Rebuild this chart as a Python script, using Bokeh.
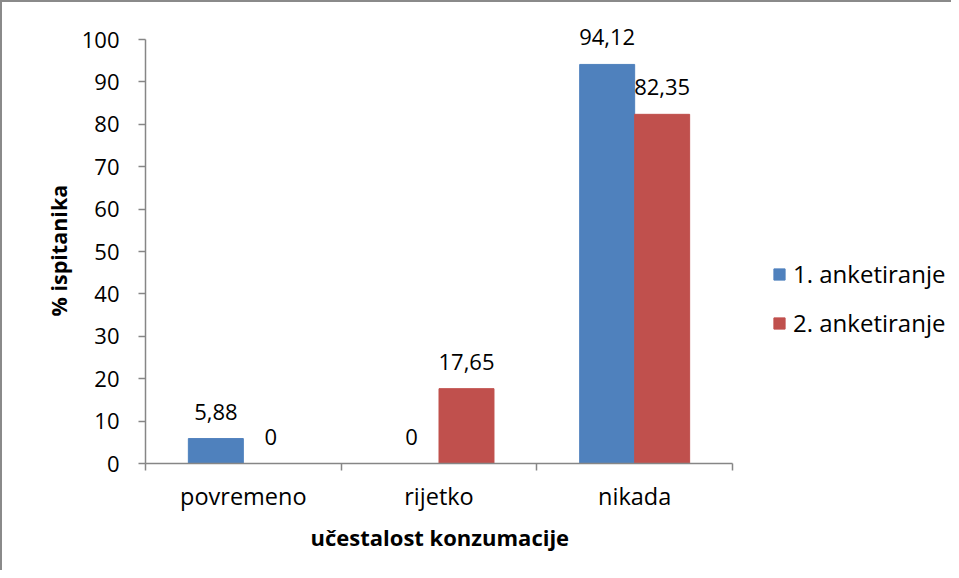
from bokeh.plotting import figure
from bokeh.models import ColumnDataSource, Range1d, FixedTicker, Legend, LegendItem, LabelSet, Title
from bokeh.core.properties import value
from bokeh.embed import file_html
from bokeh.resources import INLINE

categories = ["povremeno", "rijetko", "nikada"]
series_names = ["1. anketiranje", "2. anketiranje"]
values_1 = [5.88, 0, 94.12]
values_2 = [0, 17.65, 82.35]
y_ticks = [0, 10, 20, 30, 40, 50, 60, 70, 80, 90, 100]
x_title = "učestalost konzumacije"
y_title = "% ispitanika"

BLUE = "#4F81BD"
RED = "#C0504D"
AXIS = "#868686"
FONT = "Open Sans"
FS = "22px"

W, H = 951, 570
MBL, MBR, MBT, MBB = 143, 6, 10, 109
fw = W - MBL - MBR
fh = H - MBT - MBB
x_end = 3 * fw / 587.0
y_end = 100 * fh / 424.0

p = figure(width=W, height=H, output_backend="svg", toolbar_location=None,
           x_range=Range1d(0, x_end), y_range=Range1d(0, y_end),
           min_border_left=MBL, min_border_right=MBR, min_border_top=MBT, min_border_bottom=MBB)
p.styles = {"border-left": "2px solid #8a8a8a", "border-top": "2px solid #8a8a8a"}
p.outline_line_color = None
p.xgrid.visible = False
p.ygrid.visible = False
p.background_fill_color = "white"
p.border_fill_color = "white"

bw = 0.281
off = bw / 2
centers = [i + 0.5 for i in range(len(categories))]
fmt = lambda v: ("%g" % v).replace(".", ",")
src1 = ColumnDataSource(dict(x=[c - off for c in centers], top=values_1,
                             lab=[fmt(v) for v in values_1]))
src2 = ColumnDataSource(dict(x=[c + off for c in centers], top=values_2,
                             lab=[fmt(v) for v in values_2]))
r1 = p.vbar(x="x", top="top", width=bw, bottom=0, source=src1, fill_color=BLUE, line_color=BLUE)
r2 = p.vbar(x="x", top="top", width=bw, bottom=0, source=src2, fill_color=RED, line_color=RED)

for src in (src1, src2):
    ls = LabelSet(x="x", y="top", text="lab", source=src, text_align="center",
                  text_baseline="alphabetic", y_offset=19, text_font=value(FONT),
                  text_font_size=value(FS), text_color="black")
    p.add_layout(ls)

# x axis
xa = p.xaxis[0]
xa.bounds = (0, len(categories))
xa.ticker = FixedTicker(ticks=centers, minor_ticks=list(range(len(categories) + 1)))
xa.major_label_overrides = {c: name for c, name in zip(centers, categories)}
xa.major_tick_line_color = None
xa.major_tick_out = 0
xa.major_tick_in = 0
xa.minor_tick_line_color = AXIS
xa.minor_tick_out = 7
xa.minor_tick_in = 0
xa.axis_line_color = AXIS
xa.axis_line_width = 1.5
xa.minor_tick_line_width = 1.5
xa.major_label_text_font = FONT
xa.major_label_text_font_size = "23.5px"
xa.major_label_text_color = "black"
xa.major_label_standoff = 9

# axis titles, centred on the axis spans (not the whole frame)
xt = Title(text=x_title, align="left", offset=165, standoff=10,
           text_font=FONT, text_font_size="22px", text_font_style="bold",
           text_color="black")
p.add_layout(xt, "below")

ya = p.yaxis[0]
ya.bounds = (0, 100)
ya.ticker = FixedTicker(ticks=y_ticks)
ya.minor_tick_line_color = None
ya.major_tick_line_color = AXIS
ya.major_tick_out = 7
ya.major_tick_in = 0
ya.major_tick_line_width = 1.5
ya.axis_line_color = AXIS
ya.axis_line_width = 1.5
ya.major_label_text_font = FONT
ya.major_label_text_font_size = FS
ya.major_label_text_color = "black"
ya.major_label_standoff = 19

yt = Title(text=y_title, align="left", offset=147, standoff=12,
           text_font=FONT, text_font_size="21.5px", text_font_style="bold",
           text_color="black")
p.add_layout(yt, "left")

legend = Legend(items=[LegendItem(label=series_names[0], renderers=[r1]),
                       LegendItem(label=series_names[1], renderers=[r2])],
                location=(627, 124), orientation="vertical",
                glyph_width=14, glyph_height=14, label_standoff=7, spacing=16,
                padding=0, margin=0, border_line_color=None, background_fill_alpha=0,
                label_text_font=FONT, label_text_font_size="24px", label_text_color="black")
p.add_layout(legend, "center")

open("out.html", "w").write(file_html(p, INLINE))
